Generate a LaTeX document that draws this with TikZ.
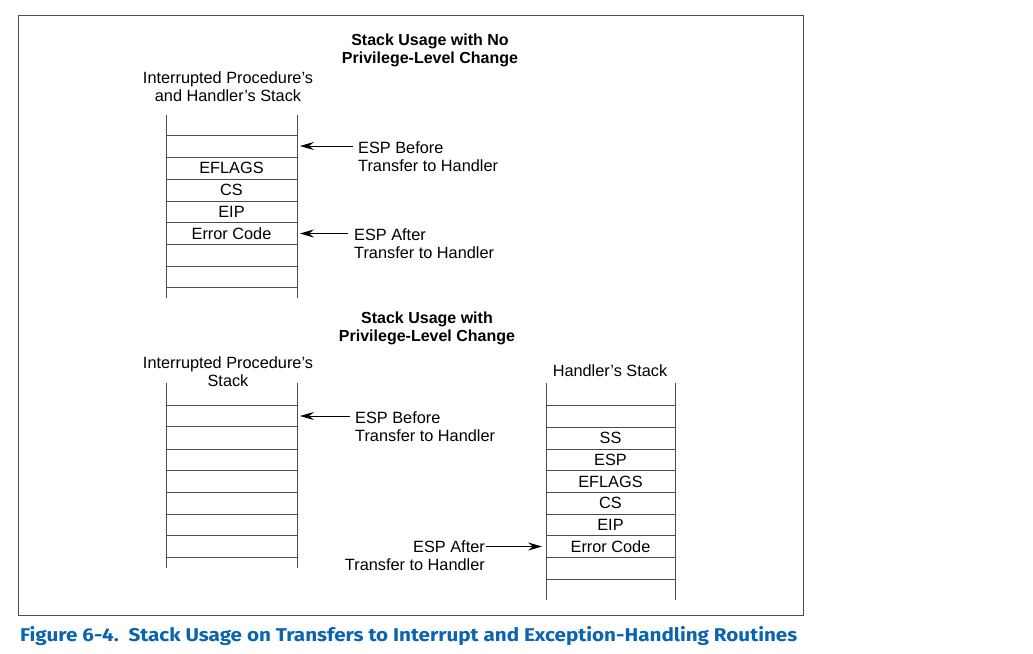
\documentclass[tikz,border=0pt]{standalone}
\usepackage{fontspec}
\setmainfont{Liberation Sans}
\newfontfamily\capfont{Fira Sans}
\usetikzlibrary{arrows.meta,positioning}
\definecolor{capblue}{RGB}{10,100,175}
\definecolor{linegray}{gray}{0.3}
\tikzset{
  stackline/.style={draw=linegray, line width=0.8pt},
  cell/.style={inner sep=0pt, font=\fontsize{16.3}{18}\selectfont},
  note/.style={inner sep=0pt, font=\fontsize{16.3}{18}\selectfont},
  heading/.style={inner sep=0pt, align=center, font=\fontsize{16}{18}\selectfont\bfseries},
  espArrow/.style={draw=black, line width=0.8pt, -{Stealth[length=14pt,width=8pt,inset=5pt]}}
}
\begin{document}
\begin{tikzpicture}[x=1pt,y=-1pt]
\useasboundingbox (0,0) rectangle (1033,653);
\draw[draw=black!70, line width=1pt] (18,15) rectangle (803,615);
% no privilege-level change
\node[heading, anchor=north] (titleA) at (430,33.3) {Stack Usage with No\\Privilege-Level Change};
\node[note, align=center, anchor=north] (stackA) at (228,71.3) {Interrupted Procedure’s\\and Handler’s Stack};
\draw[stackline] (166,115) -- (166,298);
\draw[stackline] (297,115) -- (297,298);
\draw[stackline] (166,135) -- (297,135);
\draw[stackline] (166,157.3) -- (297,157.3);
\draw[stackline] (166,179.3) -- (297,179.3);
\draw[stackline] (166,201) -- (297,201);
\draw[stackline] (166,222.7) -- (297,222.7);
\draw[stackline] (166,244.3) -- (297,244.3);
\draw[stackline] (166,266) -- (297,266);
\draw[stackline] (166,287.7) -- (297,287.7);
\coordinate (edgeA) at (300,146);
\node[cell] (eflagsA) at (231.5,168.3) {EFLAGS};
\node[cell] (csA) at (231.5,190.2) {CS};
\node[cell] (eipA) at (231.5,211.8) {EIP};
\node[cell] (errA) at (231.5,233.5) {Error Code};
\node[note, align=left, anchor=north west] (beforeA) at (358,141.3) {ESP Before\\Transfer to Handler};
\node[note, align=left, anchor=north west] (afterA) at (354,228.3) {ESP After\\Transfer to Handler};
\draw[espArrow] ([xshift=-5pt]beforeA.west |- edgeA) -- (edgeA);
\draw[espArrow] ([xshift=-6pt]afterA.west |- errA) -- (errA -| edgeA);
% privilege-level change
\node[heading, anchor=north] (titleB) at (427,311.3) {Stack Usage with\\Privilege-Level Change};
\node[note, align=center, anchor=north] (stackB) at (228,356.3) {Interrupted Procedure’s\\Stack};
\draw[stackline] (166,383) -- (166,568);
\draw[stackline] (297,383) -- (297,568);
\draw[stackline] (166,405) -- (297,405);
\draw[stackline] (166,426.7) -- (297,426.7);
\draw[stackline] (166,449) -- (297,449);
\draw[stackline] (166,470.7) -- (297,470.7);
\draw[stackline] (166,492.3) -- (297,492.3);
\draw[stackline] (166,514) -- (297,514);
\draw[stackline] (166,535.7) -- (297,535.7);
\draw[stackline] (166,557.3) -- (297,557.3);
\coordinate (edgeB) at (300,416);
\node[note, align=left, anchor=north west] (beforeB) at (355,411.3) {ESP Before\\Transfer to Handler};
\draw[espArrow] ([xshift=-5pt]beforeB.west |- edgeB) -- (edgeB);
% handler stack
\node[note, anchor=north] (stackC) at (610,364.3) {Handler’s Stack};
\draw[stackline] (546,383) -- (546,600);
\draw[stackline] (675,383) -- (675,600);
\draw[stackline] (546,405) -- (675,405);
\draw[stackline] (546,427.3) -- (675,427.3);
\draw[stackline] (546,449) -- (675,449);
\draw[stackline] (546,470.7) -- (675,470.7);
\draw[stackline] (546,492.3) -- (675,492.3);
\draw[stackline] (546,514) -- (675,514);
\draw[stackline] (546,535.7) -- (675,535.7);
\draw[stackline] (546,557.3) -- (675,557.3);
\draw[stackline] (546,579) -- (675,579);
\coordinate (edgeC) at (542,546.5);
\node[cell] (ssC) at (610.5,438.2) {SS};
\node[cell] (espC) at (610.5,459.9) {ESP};
\node[cell] (eflagsC) at (610.5,481.5) {EFLAGS};
\node[cell] (csC) at (610.5,503.2) {CS};
\node[cell] (eipC) at (610.5,524.9) {EIP};
\node[cell] (errC) at (610.5,546.5) {Error Code};
\node[note, align=right, anchor=north east] (afterC) at (485,540.3) {ESP After\\Transfer to Handler};
\draw[espArrow] ([xshift=1pt]afterC.east |- edgeC) -- (edgeC);
% caption
\node[anchor=base west, inner sep=0pt, text=capblue] (caption) at (20,641)
  {\resizebox{777pt}{15pt}{\capfont\bfseries Figure 6-4.\ \ Stack Usage on Transfers to Interrupt and Exception-Handling Routines}};
\end{tikzpicture}
\end{document}
